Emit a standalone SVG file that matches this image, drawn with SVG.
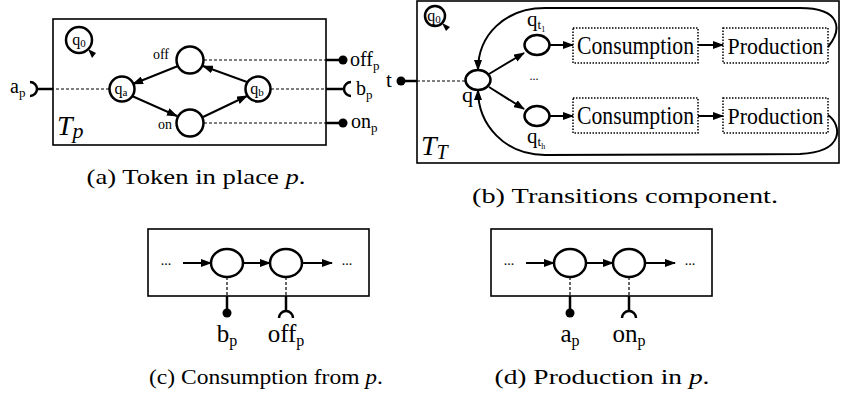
<svg xmlns="http://www.w3.org/2000/svg" width="841" height="399" viewBox="0 0 841 399" font-family="'Liberation Serif','Times New Roman',serif">
<style>
text{font-family:'Liberation Serif','Times New Roman',serif;fill:#000}
.box{fill:none;stroke:#000;stroke-width:1.6}
.dbox{fill:#fff;stroke:#000;stroke-width:1.5;stroke-dasharray:1.5 1.5}
.st{fill:#fff;stroke:#000;stroke-width:2.5}
.arr{fill:none;stroke:#000;stroke-width:2;marker-end:url(#ah)}
.dash{stroke:#000;stroke-width:1.2;stroke-dasharray:3 2}
.sol{stroke:#000;stroke-width:2.5;fill:none}
.cap{font-size:22px}
</style>
<defs>
<marker id="ah" markerUnits="userSpaceOnUse" markerWidth="11" markerHeight="8" refX="10" refY="4" orient="auto">
<path d="M0,0 L11,4 L0,8 z" fill="#000"/>
</marker>
</defs>

<!-- Panel (a) -->
<rect class="box" x="53" y="19" width="273" height="126"/>
<g id="a-q0"><circle class="st" cx="79" cy="40" r="13"/><polygon points="88,49 96,53 92,58" fill="#000"/><text x="79" y="45" font-size="16" text-anchor="middle">q<tspan font-size="11" dy="2">0</tspan></text></g>
<g id="a-off"><circle class="st" cx="190" cy="60" r="13.5"/><text x="161" y="59" font-size="14" text-anchor="middle">off</text></g>
<g id="a-on"><circle class="st" cx="190" cy="123" r="13.5"/><text x="165" y="129" font-size="14" text-anchor="middle">on</text></g>
<g id="a-qa"><circle class="st" cx="122" cy="89" r="12.5"/><text x="121" y="94" font-size="16" text-anchor="middle">q<tspan font-size="11" dy="2">a</tspan></text></g>
<g id="a-qb"><circle class="st" cx="258" cy="89" r="12.5"/><text x="257" y="94" font-size="16" text-anchor="middle">q<tspan font-size="11" dy="2">b</tspan></text></g>
<g id="a-ports">
<circle cx="343" cy="60" r="4.5" fill="#000"/>
<path class="sol" d="M351,82 A7,7 0 0 0 351,96"/>
<circle cx="343" cy="123" r="4.5" fill="#000"/>
<path class="sol" d="M30,82 A7,7 0 0 1 30,96"/>
<text x="350" y="66" font-size="20">off<tspan font-size="13" dy="4">p</tspan></text>
<text x="356" y="95" font-size="20">b<tspan font-size="13" dy="4">p</tspan></text>
<text x="351" y="128" font-size="20">on<tspan font-size="13" dy="4">p</tspan></text>
<text x="10" y="93" font-size="20">a<tspan font-size="13" dy="4">p</tspan></text>
</g>
<g id="a-label"><text x="57" y="135" font-size="28" font-style="italic">T<tspan font-size="22" dy="3">p</tspan></text></g>
<text class="cap" x="196" y="184" text-anchor="middle" textLength="219" lengthAdjust="spacingAndGlyphs">(a) Token in place <tspan font-style="italic">p</tspan>.</text>

<!-- Panel (b) -->
<rect class="box" x="417" y="1" width="422" height="162"/>
<g id="b-q0"><circle class="st" cx="435" cy="16" r="10" stroke-width="2.2"/><polygon points="442,23 450,27 446,31" fill="#000"/><text x="434" y="21" font-size="16" text-anchor="middle">q<tspan font-size="11" dy="2">0</tspan></text></g>
<g id="b-q"><ellipse class="st" cx="478" cy="80" rx="12.5" ry="10"/><text x="462" y="102" font-size="22">q</text></g>
<g id="b-qt1"><ellipse class="st" cx="537" cy="45" rx="12.5" ry="10"/><text x="527" y="26" font-size="21">q<tspan font-size="13" dy="3">t</tspan><tspan font-size="8" dy="3">1</tspan></text></g>
<g id="b-qth"><ellipse class="st" cx="537" cy="116" rx="12.5" ry="10"/><text x="527" y="143" font-size="21">q<tspan font-size="13" dy="3">t</tspan><tspan font-size="8" dy="3">h</tspan></text></g>
<text x="534" y="80" font-size="12" text-anchor="middle">...</text>
<g id="b-cons1"><rect class="dbox" x="573" y="28" width="125" height="35"/><text x="635.5" y="54" font-size="25" text-anchor="middle" textLength="117" lengthAdjust="spacingAndGlyphs">Consumption</text></g>
<g id="b-prod1"><rect class="dbox" x="723" y="28" width="105" height="35"/><text x="775.5" y="54" font-size="24" text-anchor="middle" textLength="96" lengthAdjust="spacingAndGlyphs">Production</text></g>
<g id="b-cons2"><rect class="dbox" x="573" y="98" width="125" height="35"/><text x="635.5" y="124" font-size="25" text-anchor="middle" textLength="117" lengthAdjust="spacingAndGlyphs">Consumption</text></g>
<g id="b-prod2"><rect class="dbox" x="723" y="98" width="105" height="35"/><text x="775.5" y="124" font-size="24" text-anchor="middle" textLength="96" lengthAdjust="spacingAndGlyphs">Production</text></g>
<g id="b-port"><circle cx="401" cy="81" r="4.5" fill="#000"/><text x="386" y="87" font-size="21">t</text></g>
<g id="b-label"><text x="421" y="155" font-size="28" font-style="italic">T<tspan font-size="20" dy="4">T</tspan></text></g>
<text class="cap" x="625" y="203" text-anchor="middle" textLength="306" lengthAdjust="spacingAndGlyphs">(b) Transitions component.</text>

<!-- Panel (c) -->
<rect class="box" x="148" y="229" width="221" height="67"/>
<g id="c-s1"><ellipse class="st" cx="227" cy="263" rx="16" ry="14"/></g>
<g id="c-s2"><ellipse class="st" cx="286" cy="263" rx="16" ry="14"/></g>
<text x="166" y="265" font-size="14" text-anchor="middle">...</text>
<text x="347" y="265" font-size="14" text-anchor="middle">...</text>
<g id="c-ports">
<circle cx="227" cy="313" r="4.5" fill="#000"/>
<path class="sol" d="M279,318 A7,7 0 0 1 293,318"/>
<text x="227" y="342" font-size="25" text-anchor="middle">b<tspan font-size="16" dy="4">p</tspan></text>
<text x="286" y="342" font-size="25" text-anchor="middle">off<tspan font-size="16" dy="4">p</tspan></text>
</g>
<text class="cap" x="266" y="384" text-anchor="middle" textLength="234" lengthAdjust="spacingAndGlyphs">(c) Consumption from <tspan font-style="italic">p</tspan>.</text>

<!-- Panel (d) -->
<rect class="box" x="491" y="229" width="221" height="67"/>
<g id="d-s1"><ellipse class="st" cx="570" cy="263" rx="16" ry="14"/></g>
<g id="d-s2"><ellipse class="st" cx="629" cy="263" rx="16" ry="14"/></g>
<text x="509" y="265" font-size="14" text-anchor="middle">...</text>
<text x="690" y="265" font-size="14" text-anchor="middle">...</text>
<g id="d-ports">
<circle cx="570" cy="313" r="4.5" fill="#000"/>
<path class="sol" d="M622,318 A7,7 0 0 1 636,318"/>
<text x="570" y="342" font-size="25" text-anchor="middle">a<tspan font-size="16" dy="4">p</tspan></text>
<text x="629" y="342" font-size="25" text-anchor="middle">on<tspan font-size="16" dy="4">p</tspan></text>
</g>
<text class="cap" x="602" y="384" text-anchor="middle" textLength="215" lengthAdjust="spacingAndGlyphs">(d) Production in <tspan font-style="italic">p</tspan>.</text>

<!-- Connectors -->
<g id="connectors">
<line class="arr" x1="178" y1="66" x2="133" y2="84"/>
<line class="arr" x1="132" y1="96" x2="177" y2="116"/>
<line class="arr" x1="203" y1="117" x2="247" y2="96"/>
<line class="arr" x1="247" y1="82" x2="203" y2="66"/>
<line class="dash" x1="204" y1="60" x2="326" y2="60"/>
<line class="sol" x1="326" y1="60" x2="342" y2="60"/>
<line class="dash" x1="271" y1="89" x2="326" y2="89"/>
<line class="sol" x1="326" y1="89" x2="344" y2="89"/>
<line class="dash" x1="204" y1="123" x2="326" y2="123"/>
<line class="sol" x1="326" y1="123" x2="342" y2="123"/>
<line class="dash" x1="109" y1="89" x2="53" y2="89"/>
<line class="sol" x1="53" y1="89" x2="37" y2="89"/>

<line class="sol" x1="401" y1="81" x2="417" y2="81"/>
<line class="dash" x1="417" y1="81" x2="465" y2="81"/>
<line class="arr" x1="489" y1="74" x2="524" y2="53"/>
<line class="arr" x1="489" y1="87" x2="524" y2="109"/>
<line class="arr" x1="550" y1="45" x2="573" y2="45"/>
<line class="arr" x1="550" y1="116" x2="573" y2="116"/>
<line class="arr" x1="698" y1="45" x2="723" y2="45"/>
<line class="arr" x1="698" y1="116" x2="723" y2="116"/>
<path class="arr" d="M828,47 C842,30 842,8 800,8 L545,8 C505,8 478,35 478,70"/>
<path class="arr" d="M828,115 C842,125 845,152 800,154 L545,155 C505,155 478,125 478,90"/>

<line class="arr" x1="183" y1="263" x2="211" y2="263"/>
<line class="arr" x1="243" y1="263" x2="270" y2="263"/>
<line class="arr" x1="302" y1="263" x2="332" y2="263"/>
<line class="dash" x1="227" y1="277" x2="227" y2="296"/>
<line class="sol" x1="227" y1="296" x2="227" y2="311"/>
<line class="dash" x1="286" y1="277" x2="286" y2="296"/>
<line class="sol" x1="286" y1="296" x2="286" y2="311"/>

<line class="arr" x1="526" y1="263" x2="554" y2="263"/>
<line class="arr" x1="586" y1="263" x2="613" y2="263"/>
<line class="arr" x1="645" y1="263" x2="675" y2="263"/>
<line class="dash" x1="570" y1="277" x2="570" y2="296"/>
<line class="sol" x1="570" y1="296" x2="570" y2="311"/>
<line class="dash" x1="629" y1="277" x2="629" y2="296"/>
<line class="sol" x1="629" y1="296" x2="629" y2="311"/>
</g>
</svg>
